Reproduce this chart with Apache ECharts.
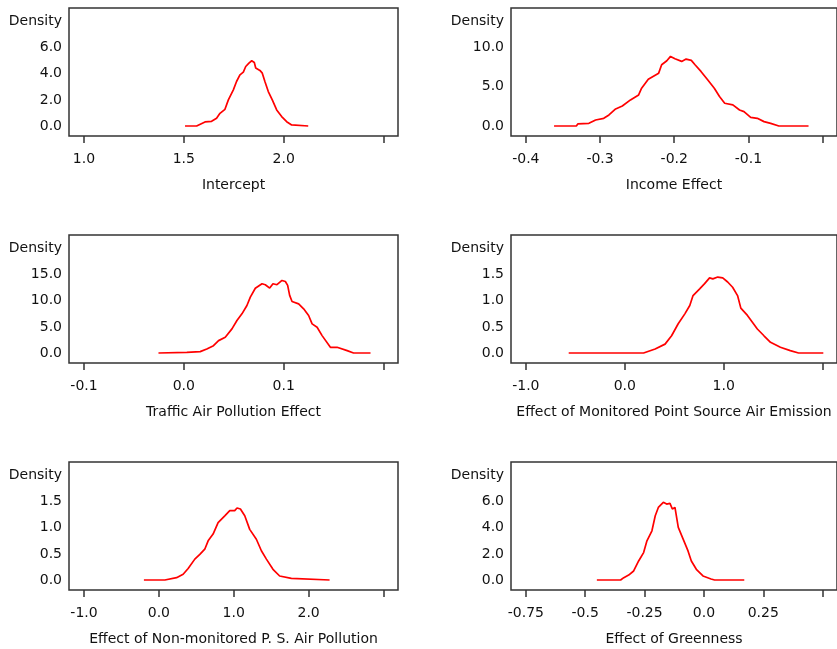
<!DOCTYPE html>
<html>
<head>
<meta charset="utf-8">
<script src="https://cdn.jsdelivr.net/npm/echarts@6/dist/echarts.min.js"></script>
<style>
html,body{margin:0;padding:0;background:#fff;}
#chart{width:837px;height:649px;}
</style>
</head>
<body>
<div id="chart"></div>
<script>
// ---- Data ----
const interceptX = [1.506, 1.564, 1.572, 1.606, 1.639, 1.664, 1.681, 1.706, 1.723, 1.748, 1.764, 1.781, 1.798, 1.810, 1.826, 1.840, 1.853, 1.860, 1.881, 1.893, 1.906, 1.923, 1.943, 1.965, 1.990, 2.015, 2.040, 2.048, 2.123];
const interceptY = [0, 0, 0.15, 0.31, 0.36, 0.59, 0.97, 1.28, 2.0, 2.77, 3.41, 3.92, 4.13, 4.56, 4.82, 5.0, 4.87, 4.44, 4.26, 4.05, 3.41, 2.64, 2.0, 1.23, 0.72, 0.33, 0.08, 0, 0];

const incomeX = [-0.362, -0.332, -0.330, -0.315, -0.306, -0.295, -0.288, -0.279, -0.270, -0.259, -0.248, -0.244, -0.235, -0.221, -0.217, -0.210, -0.205, -0.199, -0.190, -0.184, -0.177, -0.172, -0.164, -0.155, -0.146, -0.139, -0.132, -0.121, -0.112, -0.106, -0.097, -0.088, -0.079, -0.070, -0.059, -0.019];
const incomeY = [0, 0, 0.26, 0.34, 0.77, 0.98, 1.41, 2.18, 2.56, 3.33, 3.97, 4.83, 5.98, 6.75, 7.82, 8.33, 8.89, 8.59, 8.25, 8.55, 8.38, 7.82, 6.97, 5.9, 4.83, 3.76, 2.91, 2.69, 2.05, 1.84, 1.11, 0.98, 0.56, 0.34, 0, 0];

const trafficX = [-0.0254, 0.003, 0.0164, 0.023, 0.0297, 0.0348, 0.0415, 0.0482, 0.0532, 0.0582, 0.0632, 0.0666, 0.0716, 0.0783, 0.0816, 0.086, 0.0893, 0.0933, 0.0983, 0.1017, 0.104, 0.106, 0.1084, 0.115, 0.12, 0.125, 0.1285, 0.1335, 0.1385, 0.1468, 0.1535, 0.1636, 0.170, 0.187];
const trafficY = [0, 0.13, 0.26, 0.77, 1.41, 2.37, 3.01, 4.62, 6.22, 7.5, 9.1, 10.7, 12.4, 13.27, 13.08, 12.44, 13.27, 13.08, 13.9, 13.7, 12.95, 11.03, 9.87, 9.42, 8.46, 7.18, 5.58, 4.94, 3.33, 1.09, 1.09, 0.45, 0, 0];

const monitoredX = [-0.567, 0.19, 0.207, 0.307, 0.407, 0.473, 0.54, 0.607, 0.657, 0.69, 0.757, 0.807, 0.857, 0.89, 0.94, 0.99, 1.04, 1.09, 1.14, 1.173, 1.24, 1.29, 1.34, 1.407, 1.473, 1.573, 1.673, 1.757, 2.007];
const monitoredY = [0, 0, 0.03, 0.077, 0.17, 0.33, 0.56, 0.75, 0.91, 1.10, 1.23, 1.33, 1.44, 1.42, 1.455, 1.44, 1.36, 1.26, 1.10, 0.86, 0.72, 0.59, 0.46, 0.33, 0.205, 0.11, 0.045, 0, 0];

const nonMonitoredX = [-0.2, 0.08, 0.102, 0.236, 0.324, 0.391, 0.48, 0.547, 0.613, 0.658, 0.724, 0.791, 0.88, 0.947, 1.013, 1.044, 1.089, 1.147, 1.213, 1.302, 1.369, 1.436, 1.524, 1.613, 1.769, 1.791, 2.28];
const nonMonitoredY = [0, 0, 0.03, 0.045, 0.11, 0.22, 0.40, 0.49, 0.59, 0.75, 0.88, 1.10, 1.23, 1.33, 1.33, 1.38, 1.36, 1.23, 0.97, 0.78, 0.56, 0.40, 0.205, 0.077, 0.03, 0, 0];

const greennessX = [-0.451, -0.351, -0.3375, -0.317, -0.296, -0.275, -0.254, -0.240, -0.219, -0.205, -0.192, -0.171, -0.157, -0.143, -0.133, -0.122, -0.108, -0.0875, -0.067, -0.053, -0.032, -0.004, 0.030, 0.045, 0.17];
const greennessY = [0, 0, 0.18, 0.38, 0.69, 1.46, 2.10, 3.0, 3.77, 4.92, 5.56, 5.95, 5.82, 5.87, 5.44, 5.56, 4.03, 3.13, 2.23, 1.46, 0.82, 0.31, 0.08, 0, 0];

// tick values
const interceptXTicks = [1.0, 1.5, 2.0, 2.5];
const incomeXTicks = [-0.4, -0.3, -0.2, -0.1, 0.0];
const trafficXTicks = [-0.1, 0.0, 0.1, 0.2];
const monitoredXTicks = [-1.0, 0.0, 1.0, 2.0];
const nonMonitoredXTicks = [-1.0, 0.0, 1.0, 2.0, 3.0];
const greennessXTicks = [-0.75, -0.5, -0.25, 0.0, 0.25, 0.5];

const interceptYTicks = [0, 2, 4, 6];
const incomeYTicks = [0, 5, 10];
const trafficYTicks = [0, 5, 10, 15];
const monitoredYTicks = [0, 0.5, 1.0, 1.5];
const nonMonitoredYTicks = [0, 0.5, 1.0, 1.5];
const greennessYTicks = [0, 2, 4, 6];

const axisTitles = ['Intercept', 'Income Effect', 'Traffic Air Pollution Effect', 'Effect of Monitored Point Source Air Emission', 'Effect of Non-monitored P. S. Air Pollution', 'Effect of Greenness'];
const yAxisTitle = 'Density';

// ---- Build ----
const xs = [interceptX, incomeX, trafficX, monitoredX, nonMonitoredX, greennessX];
const ys = [interceptY, incomeY, trafficY, monitoredY, nonMonitoredY, greennessY];
const xTicks = [interceptXTicks, incomeXTicks, trafficXTicks, monitoredXTicks, nonMonitoredXTicks, greennessXTicks];
const yTicks = [interceptYTicks, incomeYTicks, trafficYTicks, monitoredYTicks, nonMonitoredYTicks, greennessYTicks];

const FONT = 'DejaVu Sans';
const colLeft = [69, 511];
const rowTop = [8, 235, 462];
const W = 329, H = 128;
const tickSpanPx = 299.5, padLeftPx = 15;
const zeroOffsetPx = 10, topLabelPx = 78.3;

function fmt(v) {
  const r = Math.round(v * 10000) / 10000;
  const s = String(Math.abs(r));
  const dec = s.indexOf('.') >= 0 ? s.split('.')[1].length : 0;
  return r.toFixed(Math.max(1, dec));
}

const grids = [], xAxes = [], yAxes = [], series = [], graphics = [];
for (let i = 0; i < 6; i++) {
  const col = i % 2, row = Math.floor(i / 2);
  const left = colLeft[col], top = rowTop[row];
  grids.push({left: left, top: top, width: W, height: H, show: true, borderColor: '#333', borderWidth: 1.5, backgroundColor: 'rgba(0,0,0,0)'});
  const t = xTicks[i];
  const t0 = t[0], tN = t[t.length - 1];
  const ppu = tickSpanPx / (tN - t0);
  const xmin = t0 - padLeftPx / ppu;
  const xmax = xmin + W / ppu;
  xAxes.push({
    type: 'value', gridIndex: i, min: xmin, max: xmax, position: 'bottom',
    axisLine: {show: false, onZero: false},
    splitLine: {show: false},
    axisTick: {show: true, inside: false, length: 7, customValues: t, lineStyle: {color: '#333', width: 1.5}},
    axisLabel: {show: true, margin: 16, customValues: t.slice(0, t.length - 1), formatter: fmt, color: '#111', fontFamily: FONT, fontSize: 14},
    name: axisTitles[i], nameLocation: 'middle', nameGap: 42,
    nameTextStyle: {color: '#111', fontFamily: FONT, fontSize: 14}
  });
  const yt = yTicks[i];
  const yTop = yt[yt.length - 1];
  const ppuY = topLabelPx / yTop;
  const ymin = -zeroOffsetPx / ppuY;
  const ymax = ymin + H / ppuY;
  yAxes.push({
    type: 'value', gridIndex: i, min: ymin, max: ymax, position: 'left',
    axisLine: {show: false, onZero: false}, splitLine: {show: false},
    axisTick: {show: false},
    axisLabel: {show: true, margin: 7, customValues: yt, formatter: fmt, color: '#111', fontFamily: FONT, fontSize: 14}
  });
  const data = xs[i].map((x, k) => [x, ys[i][k]]);
  series.push({
    type: 'line', xAxisIndex: i, yAxisIndex: i, data: data,
    showSymbol: false, symbol: 'none', smooth: false,
    lineStyle: {color: '#ff0000', width: 1.7}, itemStyle: {color: '#ff0000'},
    animation: false, silent: true
  });
  graphics.push({
    type: 'text', x: left - 7, y: top + 13,
    style: {text: yAxisTitle, textAlign: 'right', textVerticalAlign: 'middle', fill: '#111', font: '14px "' + FONT + '"'}
  });
}

const chart = echarts.init(document.getElementById('chart'), null, {renderer: 'canvas'});
chart.setOption({
  backgroundColor: '#fff',
  animation: false,
  grid: grids,
  xAxis: xAxes,
  yAxis: yAxes,
  series: series,
  graphic: graphics
});
</script>
</body>
</html>
